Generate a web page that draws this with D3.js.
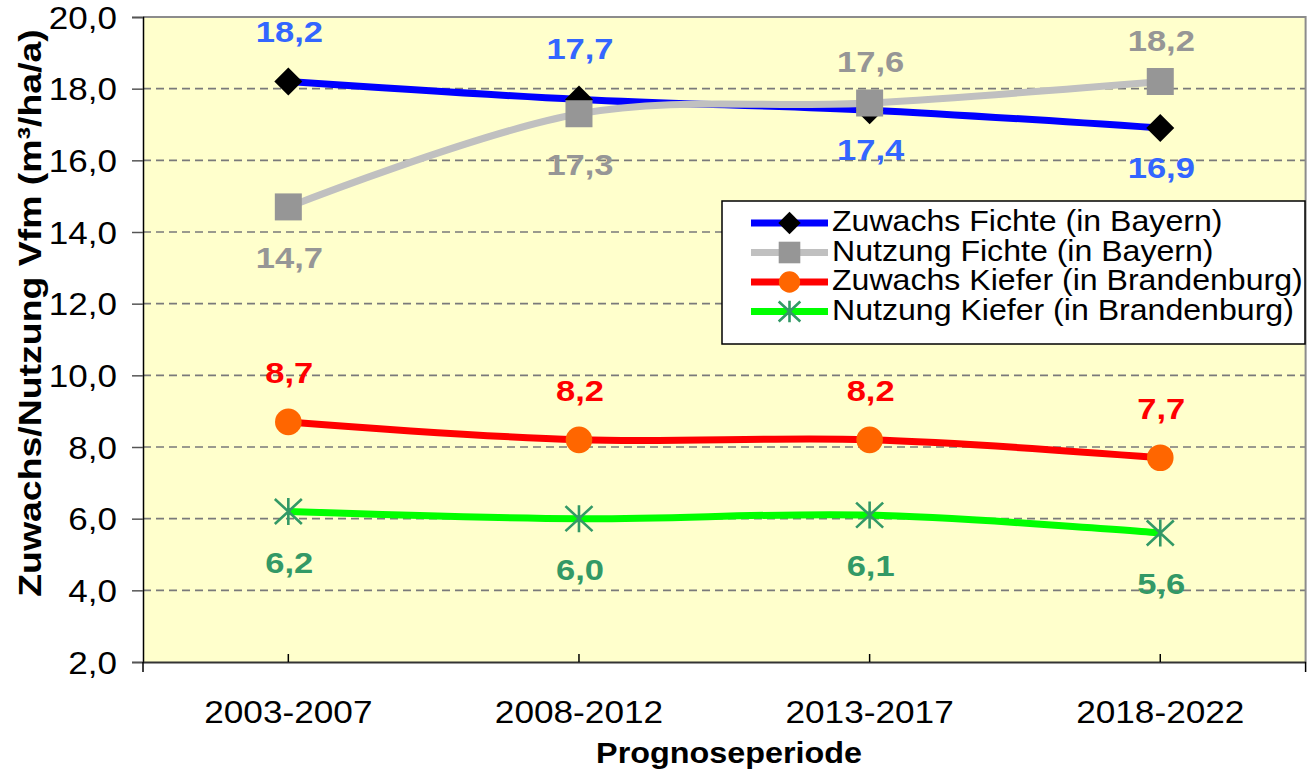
<!DOCTYPE html>
<html>
<head>
<meta charset="utf-8">
<script src="https://cdn.jsdelivr.net/npm/d3@7"></script>
<style>
  body { margin: 0; background: #fff; }
  svg { display: block; font-family: "Liberation Sans", Arial, sans-serif; }
</style>
</head>
<body>
<svg id="chart" width="1314" height="774"></svg>
<script>
// DATA
const categories = ["2003-2007", "2008-2012", "2013-2017", "2018-2022"];
const zuwachsFichte = [18.2, 17.7, 17.4, 16.9];
const nutzungFichte = [14.7, 17.3, 17.6, 18.2];
const zuwachsKiefer = [8.7, 8.2, 8.2, 7.7];
const nutzungKiefer = [6.2, 6.0, 6.1, 5.6];
const yTicks = [2, 4, 6, 8, 10, 12, 14, 16, 18, 20];
const seriesNames = [
  "Zuwachs Fichte (in Bayern)",
  "Nutzung Fichte (in Bayern)",
  "Zuwachs Kiefer (in Brandenburg)",
  "Nutzung Kiefer (in Brandenburg)"
];

// styles per series (label place: a = above, b = below)
const series = [
  { name: seriesNames[0], values: zuwachsFichte, line: "#0000ff", marker: "diamond", mfill: "#000000",
    label: "#3366ff", place: ["a", "a", "b", "b"], up: 40, down: 50 },
  { name: seriesNames[1], values: nutzungFichte, line: "#c0c0c0", marker: "square", mfill: "#969696",
    label: "#969696", place: ["b", "b", "a", "a"], up: 31, down: 61 },
  { name: seriesNames[2], values: zuwachsKiefer, line: "#ff0000", marker: "circle", mfill: "#ff6600",
    label: "#ff0000", place: ["a", "a", "a", "a"], up: 39, down: 60 },
  { name: seriesNames[3], values: nutzungKiefer, line: "#00ff00", marker: "star", mfill: "#339966",
    label: "#339966", place: ["b", "b", "b", "b"], up: 39, down: 61 }
];

// SETUP
const svg = d3.select("#chart");
const plot = { left: 143, top: 17, right: 1305.6, bottom: 662 };

const x = d3.scaleBand().domain(categories).range([plot.left, plot.right]).padding(0);
const cx = d => x(d) + x.bandwidth() / 2;
const y = d3.scaleLinear().domain([2, 20]).range([plot.bottom, plot.top]);
const fmt = v => d3.format(".1f")(v).replace(".", ",");

// plot background
svg.append("rect")
  .attr("x", plot.left).attr("y", plot.top)
  .attr("width", plot.right - plot.left).attr("height", plot.bottom - plot.top)
  .attr("fill", "#ffffcc");

// gridlines
svg.append("g").selectAll("line")
  .data(yTicks.filter(t => t > 2 && t < 20))
  .join("line")
  .attr("x1", plot.left).attr("x2", plot.right)
  .attr("y1", d => y(d)).attr("y2", d => y(d))
  .attr("stroke", "#7a7a7a").attr("stroke-width", 1.6)
  .attr("stroke-dasharray", "8,5");

// frame: top and right grey
svg.append("path")
  .attr("d", `M${plot.left},${plot.top}H${plot.right}V${plot.bottom}`)
  .attr("fill", "none").attr("stroke", "#8c8c8c").attr("stroke-width", 2);

// y axis
const yAxis = svg.append("g")
  .attr("transform", `translate(${plot.left},0)`)
  .call(d3.axisLeft(y).tickValues(yTicks).tickSize(11).tickFormat(fmt));
yAxis.select(".domain").attr("stroke", "#000").attr("stroke-width", 1.5);
yAxis.selectAll(".tick line").attr("stroke", "#555").attr("stroke-width", 1.5);
yAxis.selectAll(".tick text")
  .attr("x", 0).attr("dy", "0.36em")
  .attr("transform", "translate(-26,0) scale(1.13,1)")
  .style("font-size", "31px")
  .attr("fill", "#000");

// x axis
const xAxis = svg.append("g")
  .attr("transform", `translate(0,${plot.bottom})`)
  .call(d3.axisBottom(x).tickSize(-8).tickSizeOuter(0));
xAxis.select(".domain").attr("stroke", "#333").attr("stroke-width", 2);
xAxis.selectAll(".tick line").attr("stroke", "#000").attr("stroke-width", 1.5);
xAxis.selectAll(".tick text")
  .attr("y", 0).attr("dy", 0)
  .attr("transform", "translate(0,61) scale(1.1,1)")
  .style("font-size", "32px")
  .attr("fill", "#000");
// end ticks pointing down
xAxis.selectAll(".endtick")
  .data([plot.left, plot.right])
  .join("line")
  .attr("x1", d => d).attr("x2", d => d)
  .attr("y1", 0).attr("y2", 10)
  .attr("stroke", "#000").attr("stroke-width", 1.5);

// axis titles
svg.append("text")
  .attr("transform", "translate(41,313) rotate(-90) scale(1.17,1)")
  .attr("text-anchor", "middle")
  .style("font-size", "32px").style("font-weight", "bold")
  .text("Zuwachs/Nutzung Vfm (m³/ha/a)");

svg.append("text")
  .attr("transform", "translate(729,763) scale(1.115,1)")
  .attr("text-anchor", "middle")
  .style("font-size", "29px").style("font-weight", "bold")
  .text("Prognoseperiode");

// MARKERS
function drawMarker(g, type, fill, s) {
  if (type === "diamond") {
    g.append("path").attr("d", `M0,${-14 * s}L${14 * s},0L0,${14 * s}L${-14 * s},0Z`).attr("fill", fill);
  } else if (type === "square") {
    g.append("rect").attr("x", -13.5 * s).attr("y", -13.5 * s)
      .attr("width", 27 * s).attr("height", 27 * s).attr("fill", fill);
  } else if (type === "circle") {
    g.append("circle").attr("r", 13.3 * s).attr("fill", fill);
  } else if (type === "star") {
    g.append("path")
      .attr("d", `M0,${-13.5 * s}V${13.5 * s}M${-13.5 * s},${-12.5 * s}L${13.5 * s},${12.5 * s}M${-13.5 * s},${12.5 * s}L${13.5 * s},${-12.5 * s}`)
      .attr("stroke", fill).attr("stroke-width", 2.6).attr("fill", "none");
  }
}

// LINES + MARKERS
const line = d3.line()
  .x((d, i) => cx(categories[i]))
  .y(d => y(d))
  .curve(d3.curveCatmullRom.alpha(0));

series.forEach(s => {
  const g = svg.append("g");
  g.append("path")
    .datum(s.values)
    .attr("d", line)
    .attr("fill", "none")
    .attr("stroke", s.line)
    .attr("stroke-width", 7)
    .attr("stroke-linejoin", "round");
  s.values.forEach((v, i) => {
    const m = g.append("g").attr("transform", `translate(${cx(categories[i])},${y(v)})`);
    drawMarker(m, s.marker, s.mfill, 1);
  });
});

// DATA LABELS
series.forEach(s => {
  svg.append("g").selectAll("text")
    .data(s.values)
    .join("text")
    .attr("transform", (d, i) => {
      const ly = s.place[i] === "a" ? y(d) - s.up : y(d) + s.down;
      return `translate(${cx(categories[i]) + 1},${ly}) scale(1.15,1)`;
    })
    .attr("text-anchor", "middle")
    .attr("fill", s.label)
    .style("font-size", "30px").style("font-weight", "bold")
    .text(d => fmt(d));
});

// LEGEND
const legend = svg.append("g");
legend.append("rect")
  .attr("x", 722).attr("y", 201)
  .attr("width", 583).attr("height", 143)
  .attr("fill", "#fff").attr("stroke", "#000").attr("stroke-width", 1.5);

series.forEach((s, i) => {
  const row = legend.append("g").attr("transform", `translate(0,${231 + i * 29.5})`);
  row.append("line")
    .attr("x1", 751).attr("x2", 828)
    .attr("y1", -8).attr("y2", -8)
    .attr("stroke", s.line).attr("stroke-width", 7);
  const m = row.append("g").attr("transform", "translate(789.5,-8)");
  drawMarker(m, s.marker, s.mfill, 0.8);
  row.append("text")
    .attr("transform", "translate(832,0) scale(1.07,1)")
    .style("font-size", "30px")
    .text(s.name);
});
</script>
</body>
</html>
